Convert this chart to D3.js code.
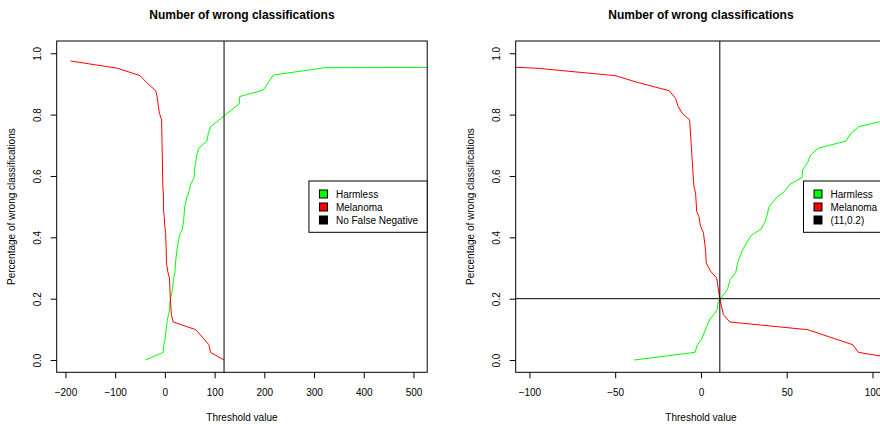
<!DOCTYPE html>
<html>
<head>
<meta charset="utf-8">
<script src="https://cdn.jsdelivr.net/npm/d3@7"></script>
<style>
  body { margin: 0; background: #fff; }
  svg { display: block; overflow: hidden; }
  text { font-family: "Liberation Sans", Arial, Helvetica, sans-serif; fill: #000; }
</style>
</head>
<body>
<div id="chart"></div>
<script>
// melanoma curve: threshold / share of wrong classifications
const melX = [-190, -95, -50, -36.3, -18.5, -14.8, -13.4, -10.9, -6.6, -4.1, -3.1, -2.5, -1.2, -0.2,
  1.4, 2.7, 3.1, 5.7, 9.2, 10.9, 13.1, 16.8, 62.2, 88.5, 91.8, 119];
const melY = [0.975, 0.951, 0.927, 0.904, 0.878, 0.853, 0.828, 0.804, 0.783, 0.565, 0.544, 0.484, 0.468, 0.435,
  0.416, 0.359, 0.316, 0.289, 0.267, 0.202, 0.148, 0.124, 0.099, 0.050, 0.025, 0];

// harmless curve
const harmX = [-39, -3.5, -2.1, 0.2, 3.3, 5.3, 8.2, 9.6, 9.9, 11.5, 15.4, 17, 20.3, 21.3, 24.2, 29.1,
  35.3, 37.8, 39.8, 43.7, 48.6, 51.5, 58.9, 59.3, 62.2, 63.6, 68, 84.6, 87.1, 92, 149.4, 150.5,
  197.8, 218, 322, 600];
const harmY = [0, 0.025, 0.05, 0.066, 0.109, 0.134, 0.153, 0.166, 0.186, 0.202, 0.229, 0.262, 0.285, 0.316, 0.359, 0.405,
  0.428, 0.457, 0.5, 0.528, 0.549, 0.571, 0.595, 0.62, 0.644, 0.665, 0.69, 0.714, 0.737, 0.761, 0.835, 0.859,
  0.88, 0.929, 0.953, 0.954];

const yTicks = [0, 0.2, 0.4, 0.6, 0.8, 1.0];
const xTicksLeft = [-200, -100, 0, 100, 200, 300, 400, 500];
const xTicksRight = [-100, -50, 0, 50, 100];

const legendLeft = ["Harmless", "Melanoma", "No False Negative"];
const legendRight = ["Harmless", "Melanoma", "(11,0.2)"];
const legendColors = ["#00ff00", "#ff0000", "#000000"];

const title = "Number of wrong classifications";
const xTitle = "Threshold value";
const yTitle = "Percentage of wrong classifications";

const svg = d3.select("#chart").append("svg")
  .attr("width", 880)
  .attr("height", 424);

const melanoma = melX.map((x, i) => ({ x: x, y: melY[i] }));
const harmless = harmX.map((x, i) => ({ x: x, y: harmY[i] }));

const boxTop = 41, boxBottom = 372.3, boxW = 370.5;

function panel(id, left, xDomain, xTicks, vLine, hLine, legend) {
  const right = left + boxW;
  const xScale = d3.scaleLinear().domain(xDomain).range([left, right]);
  const yScale = d3.scaleLinear().domain([-0.04, 1.04]).range([boxBottom, boxTop]);
  const g = svg.append("g");

  g.append("clipPath").attr("id", id)
    .append("rect")
    .attr("x", left).attr("y", boxTop)
    .attr("width", boxW).attr("height", boxBottom - boxTop);

  const plot = g.append("g").attr("clip-path", "url(#" + id + ")");

  const line = d3.line()
    .x(d => xScale(d.x))
    .y(d => yScale(d.y));

  plot.append("path").datum(harmless)
    .attr("fill", "none").attr("stroke", legendColors[0]).attr("stroke-width", 1)
    .attr("d", line);
  plot.append("path").datum(melanoma)
    .attr("fill", "none").attr("stroke", legendColors[1]).attr("stroke-width", 1)
    .attr("d", line);

  plot.append("line")
    .attr("x1", xScale(vLine)).attr("x2", xScale(vLine))
    .attr("y1", boxTop).attr("y2", boxBottom)
    .attr("stroke", "#000").attr("stroke-width", 1);
  if (hLine != null) {
    plot.append("line")
      .attr("x1", left).attr("x2", right)
      .attr("y1", yScale(hLine)).attr("y2", yScale(hLine))
      .attr("stroke", "#000").attr("stroke-width", 1);
  }

  // box
  g.append("rect")
    .attr("x", left).attr("y", boxTop)
    .attr("width", boxW).attr("height", boxBottom - boxTop)
    .attr("fill", "none").attr("stroke", "#000").attr("stroke-width", 1);

  // axes
  const ax = g.append("g")
    .attr("transform", "translate(0," + boxBottom + ")")
    .call(d3.axisBottom(xScale).tickValues(xTicks).tickSize(6).tickSizeOuter(0).tickPadding(11));
  ax.select(".domain").remove();
  ax.selectAll("text").style("font-size", "10px").attr("font-family", null);

  const ay = g.append("g")
    .attr("transform", "translate(" + left + ",0)")
    .call(d3.axisLeft(yScale).tickValues(yTicks).tickSize(6).tickSizeOuter(0).tickFormat(d3.format(".1f")));
  ay.select(".domain").remove();
  ay.selectAll("text")
    .attr("x", null).attr("dy", "0.35em")
    .attr("text-anchor", "middle")
    .attr("transform", "translate(-19,0) rotate(-90)")
    .style("font-size", "10px").attr("font-family", null);

  // titles
  g.append("text")
    .attr("x", left + boxW / 2).attr("y", 15).attr("dy", "0.35em")
    .attr("text-anchor", "middle")
    .style("font-size", "12px").style("font-weight", "bold")
    .text(title);
  g.append("text")
    .attr("x", left + boxW / 2).attr("y", 417).attr("dy", "0.35em")
    .attr("text-anchor", "middle")
    .style("font-size", "10px")
    .text(xTitle);
  g.append("text")
    .attr("transform", "translate(" + (left - 45) + "," + ((boxTop + boxBottom) / 2) + ") rotate(-90)")
    .attr("dy", "0.35em")
    .attr("text-anchor", "middle")
    .style("font-size", "10px")
    .text(yTitle);

  // legend, right-aligned and vertically centred like legend("right")
  const lg = g.append("g");
  const texts = lg.selectAll("text").data(legend).join("text")
    .style("font-size", "10px")
    .attr("dy", "0.35em")
    .text(d => d);
  let maxW = 0;
  texts.each(function () { maxW = Math.max(maxW, this.getComputedTextLength()); });
  const lw = maxW + 27 + 9, lh = 51.3;
  const lx = right - lw, ly = (boxTop + boxBottom) / 2 - lh / 2;
  lg.insert("rect", "text")
    .attr("x", lx).attr("y", ly).attr("width", lw).attr("height", lh)
    .attr("fill", "#fff").attr("stroke", "#000").attr("stroke-width", 1);
  texts.attr("x", lx + 27).attr("y", (d, i) => ly + 13 + i * 13);
  lg.selectAll("rect.key").data(legend).join("rect")
    .attr("class", "key")
    .attr("x", lx + 10.5).attr("y", (d, i) => ly + 9 + i * 13)
    .attr("width", 8).attr("height", 8)
    .attr("fill", (d, i) => legendColors[i])
    .attr("stroke", "#000").attr("stroke-width", 1);
}

panel("clipL", 56.7, [-217.6, 527.6], xTicksLeft, 119, null, legendLeft);
panel("clipR", 515.7, [-108, 108], xTicksRight, 11, 0.2, legendRight);
</script>
</body>
</html>
